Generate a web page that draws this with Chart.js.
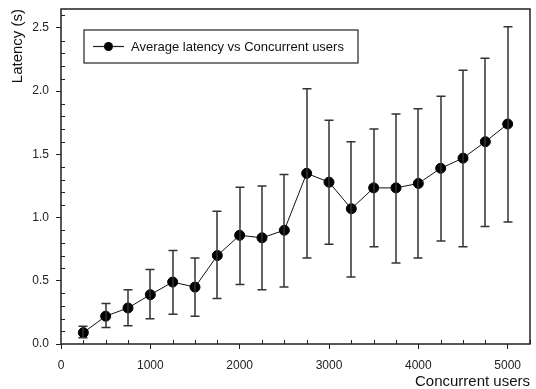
<!DOCTYPE html>
<html>
  <head>
    <script src="https://cdn.jsdelivr.net/npm/chart.js"></script>
    <title>Latency</title>
    <style>
      html, body { margin: 0; padding: 0; background: #fff; }
      #wrap { width: 536px; height: 389px; }
    </style>
  </head>
  <body>
    <div id="wrap"><canvas id="grafico" width="536" height="389"></canvas></div>
    <script>
      // datos
      const usuarios = [250, 500, 750, 1000, 1250, 1500, 1750, 2000, 2250, 2500,
                        2750, 3000, 3250, 3500, 3750, 4000, 4250, 4500, 4750, 5000];
      const latencia = [0.09, 0.22, 0.285, 0.39, 0.49, 0.45, 0.70, 0.86, 0.84, 0.90,
                        1.35, 1.28, 1.07, 1.235, 1.235, 1.27, 1.39, 1.47, 1.60, 1.74];
      const errorBajo = [0.05, 0.13, 0.145, 0.20, 0.235, 0.22, 0.36, 0.47, 0.43, 0.45,
                         0.68, 0.79, 0.53, 0.77, 0.64, 0.68, 0.815, 0.77, 0.93, 0.965];
      const errorAlto = [0.14, 0.32, 0.43, 0.59, 0.74, 0.68, 1.05, 1.24, 1.25, 1.34,
                         2.02, 1.77, 1.60, 1.70, 1.82, 1.86, 1.96, 2.165, 2.26, 2.51];
      const ticksX = [0, 1000, 2000, 3000, 4000, 5000];
      const ticksY = [0, 0.5, 1.0, 1.5, 2.0, 2.5];
      const etiquetaSerie = "Average latency vs Concurrent users";

      const FUENTE = "'Liberation Sans', Arial, sans-serif";

      // barras de error, caja y ticks menores
      const extras = {
        id: "extras",
        afterDatasetsDraw(chart) {
          const ctx = chart.ctx;
          const xs = chart.scales.x;
          const ys = chart.scales.y;
          ctx.save();
          ctx.strokeStyle = "#333";
          ctx.lineWidth = 1.5;
          for (let i = 0; i < usuarios.length; i++) {
            const px = Math.round(xs.getPixelForValue(usuarios[i]));
            const y1 = ys.getPixelForValue(errorBajo[i]);
            const y2 = ys.getPixelForValue(errorAlto[i]);
            ctx.beginPath();
            ctx.moveTo(px, y1);
            ctx.lineTo(px, y2);
            ctx.moveTo(px - 4.5, y1);
            ctx.lineTo(px + 4.5, y1);
            ctx.moveTo(px - 4.5, y2);
            ctx.lineTo(px + 4.5, y2);
            ctx.stroke();
          }
          ctx.restore();
        },
        afterDraw(chart) {
          const ctx = chart.ctx;
          const a = chart.chartArea;
          const xs = chart.scales.x;
          const ys = chart.scales.y;
          ctx.save();
          // caja
          ctx.strokeStyle = "#222";
          ctx.lineWidth = 1.5;
          ctx.strokeRect(a.left, a.top, a.right - a.left, a.bottom - a.top);
          // ticks menores hacia adentro
          ctx.lineWidth = 1;
          ctx.beginPath();
          for (let v = 250; v <= 5250; v += 250) {
            if (v % 1000 === 0) continue;
            const px = Math.round(xs.getPixelForValue(v)) + 0.5;
            ctx.moveTo(px, a.bottom);
            ctx.lineTo(px, a.bottom - 4);
          }
          for (let k = 1; k <= 26; k++) {
            if (k % 5 === 0) continue;
            const py = Math.round(ys.getPixelForValue(k / 10)) + 0.5;
            ctx.moveTo(a.left, py);
            ctx.lineTo(a.left + 4, py);
          }
          ctx.stroke();

          // leyenda
          const lx = 84, ly = 30, lw = 274, lh = 33;
          ctx.fillStyle = "#fff";
          ctx.fillRect(lx, ly, lw, lh);
          ctx.strokeStyle = "#222";
          ctx.lineWidth = 1.2;
          ctx.strokeRect(lx, ly, lw, lh);
          const cy = ly + lh / 2;
          ctx.beginPath();
          ctx.moveTo(93, cy);
          ctx.lineTo(124, cy);
          ctx.stroke();
          ctx.fillStyle = "#000";
          ctx.beginPath();
          ctx.arc(108.5, cy, 4.5, 0, Math.PI * 2);
          ctx.fill();
          ctx.font = "13px " + FUENTE;
          ctx.textBaseline = "middle";
          ctx.fillStyle = "#111";
          ctx.fillText(etiquetaSerie, 131, cy + 0.5);
          ctx.restore();
        }
      };

      const puntos = usuarios.map((u, i) => ({ x: u, y: latencia[i] }));

      new Chart(document.getElementById("grafico"), {
        type: "line",
        data: {
          datasets: [{
            label: etiquetaSerie,
            data: puntos,
            borderColor: "#111",
            borderWidth: 1,
            backgroundColor: "#000",
            pointBackgroundColor: "#000",
            pointBorderColor: "#000",
            pointRadius: 5,
            tension: 0
          }]
        },
        options: {
          responsive: false,
          animation: false,
          layout: { padding: { top: 9, right: 2, left: 0, bottom: 0 } },
          plugins: {
            legend: { display: false },
            tooltip: { enabled: false }
          },
          scales: {
            x: {
              type: "linear",
              min: 0,
              max: 5250,
              afterBuildTicks(s) { s.ticks = ticksX.map((v) => ({ value: v })); },
              afterFit(s) { s.height = 45; s.paddingLeft = 0; s.paddingRight = 0; },
              grid: { drawOnChartArea: false, drawTicks: true, tickLength: 5, color: "#222" },
              border: { display: false },
              ticks: {
                padding: 9,
                color: "#222",
                maxRotation: 0,
                autoSkip: false,
                font: { family: FUENTE, size: 12 },
                callback: (v) => String(v)
              },
              title: {
                display: true,
                text: "Concurrent users",
                align: "end",
                color: "#111",
                font: { family: FUENTE, size: 15 },
                padding: { top: 0, bottom: -2 }
              }
            },
            y: {
              min: 0,
              max: 2.65,
              afterBuildTicks(s) { s.ticks = ticksY.map((v) => ({ value: v })); },
              afterFit(s) { s.width = 61; s.paddingTop = 0; s.paddingBottom = 0; },
              grid: { drawOnChartArea: false, drawTicks: true, tickLength: 5, color: "#222" },
              border: { display: false },
              ticks: {
                padding: 7,
                color: "#222",
                autoSkip: false,
                font: { family: FUENTE, size: 12 },
                callback: (v) => v.toFixed(1)
              },
              title: {
                display: true,
                text: "Latency (s)",
                align: "end",
                color: "#111",
                font: { family: FUENTE, size: 15 },
                padding: { top: 9, bottom: 0 }
              }
            }
          }
        },
        plugins: [extras]
      });
    </script>
  </body>
</html>
